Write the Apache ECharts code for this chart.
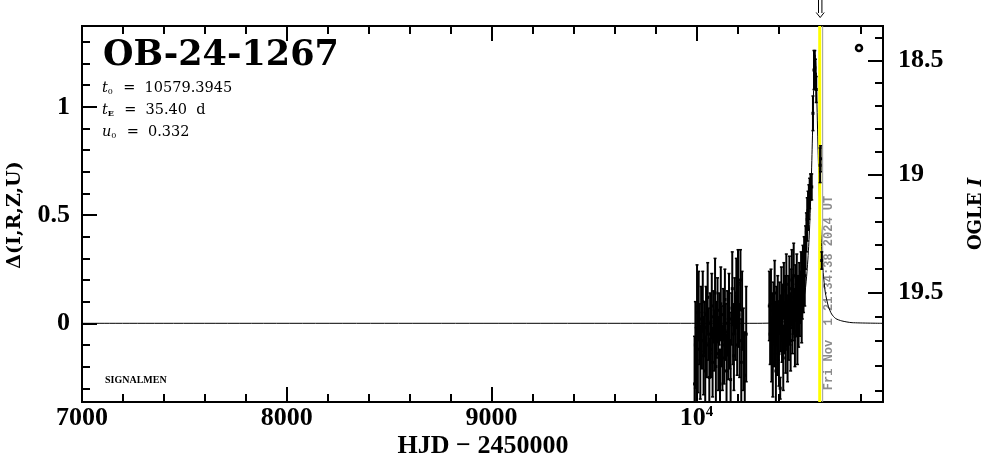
<!DOCTYPE html>
<html><head><meta charset="utf-8">
<script src="https://cdn.jsdelivr.net/npm/echarts@6/dist/echarts.min.js"></script>
<style>html,body{margin:0;padding:0;background:#fff}#c{width:986px;height:459px}</style>
</head><body><div id="c"></div>
<script>
// ---- axis ticks / labels ----
const xMajorTicks = [7000, 8000, 9000, 10000];
const xMajorLabels = ['7000', '8000', '9000', '{b|10}{s|4}'];
const xMinorTicks = [7200, 7400, 7600, 7800, 8200, 8400, 8600, 8800, 9200, 9400, 9600, 9800, 10200, 10400, 10600, 10800];
const yMajorTicks = [0, 0.5, 1];
const yMajorLabels = ['0', '0.5', '1'];
const yMinorTicks = [-0.3, -0.2, -0.1, 0.1, 0.2, 0.3, 0.4, 0.6, 0.7, 0.8, 0.9, 1.1, 1.2, 1.3];
const magMajorTicks = [18.5, 19, 19.5];
const magMajorLabels = ['18.5', '19', '19.5'];
const magMinorTicks = [18.4, 18.6, 18.7, 18.8, 18.9, 19.1, 19.2, 19.3, 19.4, 19.6, 19.7, 19.8, 19.9];

// ---- model curve ----
const modelT = [7000, 10300, 10400, 10450, 10480, 10500, 10515, 10530, 10540, 10550, 10558, 10565, 10572, 10576, 10579.4, 10583, 10587, 10594, 10601, 10609, 10619, 10629, 10644, 10660, 10680, 10710, 10760, 10911];
const modelD = [0, 0, 0.003, 0.012, 0.022, 0.044, 0.079, 0.144, 0.239, 0.388, 0.575, 0.804, 1.076, 1.19, 1.24, 1.19, 1.07, 0.80, 0.575, 0.39, 0.235, 0.144, 0.079, 0.043, 0.022, 0.011, 0.003, 0];

// ---- photometry season 2023 ----
const s1T = [9991, 9995, 9999, 10003, 10007, 10011, 10015, 10019, 10023, 10027, 10031, 10035, 10039, 10043, 10047, 10051, 10055, 10059, 10063, 10067, 10071, 10075, 10079, 10083, 10087, 10091, 10095, 10099, 10103, 10107, 10111, 10115, 10119, 10123, 10127, 10131, 10135, 10139, 10143, 10147, 10151, 10155, 10159, 10163, 10167, 10171, 10175, 10179, 10183, 10187, 10191, 10195, 10199, 10203, 10207, 10211, 10215, 10219, 10223, 10229, 10236, 10243];
const s1D = [-0.28, -0.10, -0.20, 0.05, -0.12, 0.08, -0.05, -0.18, 0.02, -0.08, 0.10, -0.15, -0.02, -0.22, 0.04, -0.10, 0.12, -0.05, -0.25, 0.00, -0.12, 0.08, -0.18, 0.03, -0.08, 0.14, -0.20, -0.03, 0.06, -0.14, 0.02, -0.28, 0.09, -0.06, -0.16, 0.04, -0.10, 0.11, -0.04, -0.22, 0.00, -0.12, 0.07, -0.08, -0.26, 0.02, 0.16, -0.05, -0.15, 0.08, -0.02, 0.14, -0.10, 0.18, 0.04, -0.08, 0.20, -0.18, 0.06, -0.12, -0.24, -0.05];
const s1E = [0.22, 0.20, 0.18, 0.22, 0.20, 0.16, 0.14, 0.17, 0.15, 0.13, 0.14, 0.18, 0.12, 0.16, 0.13, 0.15, 0.16, 0.12, 0.18, 0.14, 0.13, 0.15, 0.16, 0.12, 0.14, 0.16, 0.20, 0.13, 0.15, 0.17, 0.12, 0.16, 0.17, 0.14, 0.15, 0.12, 0.18, 0.14, 0.13, 0.17, 0.15, 0.14, 0.16, 0.13, 0.18, 0.12, 0.17, 0.14, 0.16, 0.13, 0.15, 0.16, 0.14, 0.16, 0.15, 0.17, 0.14, 0.20, 0.18, 0.19, 0.20, 0.22];

// ---- photometry season 2024 ----
const s2T = [10356, 10360, 10364, 10367, 10370, 10373, 10376, 10379, 10382, 10385, 10388, 10391, 10394, 10397, 10400, 10403, 10406, 10409, 10412, 10415, 10418, 10421, 10424, 10427, 10430, 10433, 10436, 10439, 10442, 10445, 10448, 10451, 10454, 10457, 10460, 10463, 10466, 10469, 10472, 10475, 10478, 10481, 10484, 10487, 10490, 10493, 10496, 10499, 10502, 10505, 10508, 10511, 10514, 10517, 10520, 10523, 10526, 10529, 10533, 10537, 10541, 10545, 10549, 10553, 10557, 10563, 10569, 10574, 10578, 10581, 10585, 10604, 10606, 10612];
const s2D = [0.08, -0.05, 0.12, -0.12, 0.02, -0.18, 0.06, -0.08, 0.14, -0.02, -0.22, 0.04, -0.10, 0.10, -0.04, -0.14, 0.07, -0.30, 0.00, 0.12, -0.06, 0.05, -0.16, 0.15, -0.02, 0.08, -0.10, 0.18, 0.01, -0.12, 0.10, -0.04, 0.16, 0.02, -0.08, 0.12, 0.20, -0.02, 0.08, 0.22, 0.04, -0.06, 0.14, 0.06, 0.18, -0.04, 0.10, 0.02, 0.16, 0.08, 0.12, 0.20, 0.05, 0.14, 0.24, 0.18, 0.28, 0.22, 0.35, 0.42, 0.48, 0.52, 0.56, 0.60, 0.63, 0.63, 0.97, 1.17, 1.18, 1.15, 1.08, 0.73, 0.76, 0.29];
const s2E = [0.16, 0.14, 0.13, 0.15, 0.12, 0.16, 0.13, 0.12, 0.15, 0.12, 0.15, 0.13, 0.14, 0.12, 0.13, 0.15, 0.12, 0.05, 0.13, 0.14, 0.12, 0.13, 0.15, 0.13, 0.12, 0.14, 0.13, 0.14, 0.12, 0.15, 0.12, 0.13, 0.15, 0.12, 0.14, 0.13, 0.14, 0.12, 0.13, 0.15, 0.12, 0.14, 0.13, 0.12, 0.14, 0.15, 0.12, 0.13, 0.12, 0.14, 0.12, 0.13, 0.14, 0.12, 0.12, 0.13, 0.12, 0.14, 0.10, 0.09, 0.10, 0.09, 0.08, 0.07, 0.06, 0.06, 0.08, 0.09, 0.08, 0.07, 0.06, 0.08, 0.06, 0.04];

// ---- event info ----
const eventName = 'OB-24-1267';
const lastObsHJD = 10602;
const nowHJD = 10616.4;
const nowText = 'Fri Nov  1 21:34:38 2024 UT';

// magnitude -> Delta mapping of the right axis
function magToDelta(m) { const u = m - 19; return 0.6876 - 1.0738 * u - 0.038 * u * u; }

const X_MIN = 7000, X_MAX = 10911, Y_MIN = -0.3635, Y_MAX = 1.3733;
const LBL_FONT = 'Liberation Serif';

function pointsOf(T, D, E) { return T.map((t, i) => [t, D[i], E[i]]); }
const photData = pointsOf(s1T, s1D, s1E).concat(pointsOf(s2T, s2D, s2E));
const modelData = modelT.map((t, i) => [t, modelD[i]]);

function nearestLabel(ticks, labels, v) {
  let bi = 0, bd = Infinity;
  ticks.forEach((t, i) => { const d = Math.abs(t - v); if (d < bd) { bd = d; bi = i; } });
  return labels[bi];
}
const black = '#000';
function xAx(pos, ticks, len, labels) {
  return {
    type: 'value', position: pos, min: X_MIN, max: X_MAX, gridIndex: 0,
    axisLine: { show: true, onZero: false, lineStyle: { color: black, width: 2 } },
    axisTick: { show: true, inside: true, length: len, customValues: ticks, lineStyle: { color: black, width: 2 } },
    axisLabel: labels ? {
      show: true, customValues: ticks, margin: 3, color: black, fontFamily: LBL_FONT, fontWeight: 'bold', fontSize: 26,
      formatter: v => nearestLabel(xMajorTicks, xMajorLabels, v),
      rich: {
        b: { fontFamily: LBL_FONT, fontWeight: 'bold', fontSize: 26, color: black, lineHeight: 26 },
        s: { fontFamily: LBL_FONT, fontWeight: 'bold', fontSize: 15, color: black, verticalAlign: 'top', lineHeight: 15, padding: [0, 0, 12, 0] }
      }
    } : { show: false },
    splitLine: { show: false }
  };
}
function yAx(pos, ticks, len, labelFn, margin) {
  return {
    type: 'value', position: pos, min: Y_MIN, max: Y_MAX, gridIndex: 0,
    axisLine: { show: true, onZero: false, lineStyle: { color: black, width: 2 } },
    axisTick: { show: true, inside: true, length: len, customValues: ticks, lineStyle: { color: black, width: 2 } },
    axisLabel: labelFn ? {
      show: true, customValues: ticks, margin: margin, color: black, fontFamily: LBL_FONT, fontWeight: 'bold', fontSize: 26,
      formatter: labelFn
    } : { show: false },
    splitLine: { show: false }
  };
}
const magMajorDelta = magMajorTicks.map(magToDelta);
const magMinorDelta = magMinorTicks.map(magToDelta);

const chart = echarts.init(document.getElementById('c'), null, { renderer: 'canvas' });

function vline(color, width) {
  return function (params, api) {
    const cs = params.coordSys;
    const x = api.coord([api.value(0), 0])[0];
    return { type: 'line', shape: { x1: x, y1: cs.y, x2: x, y2: cs.y + cs.height }, style: { stroke: color, lineWidth: width } };
  };
}

const option = {
  animation: false,
  backgroundColor: '#fff',
  grid: { left: 82, right: 103, top: 26, bottom: 57, containLabel: false },
  xAxis: [
    xAx('bottom', xMajorTicks, 15, true),
    xAx('top', xMajorTicks, 15, false),
    xAx('bottom', xMinorTicks, 8, false),
    xAx('top', xMinorTicks, 8, false)
  ],
  yAxis: [
    yAx('left', yMajorTicks, 15, v => nearestLabel(yMajorTicks, yMajorLabels, v), 12),
    yAx('left', yMinorTicks, 8, null, 0),
    yAx('right', magMajorDelta, 15, v => nearestLabel(magMajorDelta, magMajorLabels, v), 15),
    yAx('right', magMinorDelta, 8, null, 0)
  ],
  series: [
    {
      type: 'line', name: 'model', xAxisIndex: 0, yAxisIndex: 0, data: modelData,
      showSymbol: false, symbol: 'none', smooth: 0.25, z: 2,
      lineStyle: { color: black, width: 1 }
    },
    {
      type: 'custom', name: 'last', xAxisIndex: 0, yAxisIndex: 0, data: [[lastObsHJD]], z: 3,
      renderItem: vline('#ffff00', 3)
    },
    {
      type: 'custom', name: 'now', xAxisIndex: 0, yAxisIndex: 0, data: [[nowHJD]], z: 3,
      renderItem: vline('#999999', 1)
    },
    {
      type: 'custom', name: 'phot', xAxisIndex: 0, yAxisIndex: 0, data: photData, z: 4,
      renderItem: function (params, api) {
        const cs = params.coordSys;
        const t = api.value(0), d = api.value(1), e = api.value(2);
        const top = api.coord([t, d + e]), bot = api.coord([t, d - e]), c = api.coord([t, d]);
        const y0 = cs.y, y1 = cs.y + cs.height;
        const clampY = y => Math.max(y0, Math.min(y1, y));
        const ch = [
          { type: 'line', shape: { x1: top[0], y1: clampY(top[1]), x2: bot[0], y2: clampY(bot[1]) }, style: { stroke: black, lineWidth: 2 } }
        ];
        if (top[1] >= y0 && top[1] <= y1) ch.push({ type: 'line', shape: { x1: top[0] - 1.5, y1: top[1], x2: top[0] + 1.5, y2: top[1] }, style: { stroke: black, lineWidth: 1.5 } });
        if (bot[1] >= y0 && bot[1] <= y1) ch.push({ type: 'line', shape: { x1: bot[0] - 1.5, y1: bot[1], x2: bot[0] + 1.5, y2: bot[1] }, style: { stroke: black, lineWidth: 1.5 } });
        if (c[1] >= y0 && c[1] <= y1) ch.push({ type: 'rect', shape: { x: c[0] - 1.5, y: c[1] - 1.5, width: 3, height: 3 }, style: { fill: black } });
        return { type: 'group', children: ch };
      }
    }
  ]
};
chart.setOption(option);

const arrowX = chart.convertToPixel({ xAxisIndex: 0 }, lastObsHJD) + 0.5;
const nowX = chart.convertToPixel({ xAxisIndex: 0 }, nowHJD);
const serif = 'DejaVu Serif';
function paramRich(bold) {
  return {
    i: { fontFamily: serif, fontStyle: 'italic', fontSize: 14.5, fill: black },
    sub: { fontFamily: serif, fontWeight: bold ? 'bold' : 'normal', fontSize: 8, fill: black, verticalAlign: 'bottom', padding: [6, 1, 0, 0] },
    n: { fontFamily: serif, fontSize: 14.5, fill: black }
  };
}
chart.setOption({
  graphic: [
    { type: 'text', x: 103, y: 56, style: { text: eventName, fontFamily: serif, fontWeight: 'bold', fontSize: 35, fill: black, verticalAlign: 'middle', align: 'left' } },
    { type: 'text', x: 102, y: 88, style: { text: '{i|t}{sub|0}{n|  =  10579.3945}', verticalAlign: 'middle', rich: paramRich(false) } },
    { type: 'text', x: 102, y: 110.5, style: { text: '{i|t}{sub|E}{n|  =  35.40  d}', verticalAlign: 'middle', rich: paramRich(true) } },
    { type: 'text', x: 102, y: 132.5, style: { text: '{i|u}{sub|0}{n|  =  0.332}', verticalAlign: 'middle', rich: paramRich(false) } },
    { type: 'text', x: 105, y: 380, style: { text: 'SIGNALMEN', fontFamily: 'Liberation Serif', fontWeight: 'bold', fontSize: 10, fill: black, verticalAlign: 'middle' } },
    { type: 'text', x: 15, y: 215, rotation: Math.PI / 2, style: { text: 'Δ(I,R,Z,U)', fontFamily: serif, fontWeight: 'bold', fontSize: 19, fill: black, align: 'center', verticalAlign: 'middle' } },
    { type: 'text', x: 976, y: 214, rotation: Math.PI / 2, style: { text: '{a|OGLE }{b|I}', align: 'center', verticalAlign: 'middle', rich: {
      a: { fontFamily: serif, fontWeight: 'bold', fontSize: 18, fill: black },
      b: { fontFamily: serif, fontWeight: 'bold', fontStyle: 'italic', fontSize: 18, fill: black } } } },
    { type: 'text', x: 483, y: 446, style: { text: 'HJD \u2212 2450000', fontFamily: LBL_FONT, fontWeight: 'bold', fontSize: 26, fill: black, align: 'center', verticalAlign: 'middle' } },
    { type: 'text', x: nowX + 6.5, y: 293, rotation: Math.PI / 2, style: { text: nowText, fontFamily: 'Liberation Mono', fontWeight: 'bold', fontSize: 12, fill: '#8c8c8c', align: 'center', verticalAlign: 'middle' } },
    { type: 'circle', shape: { cx: 859, cy: 48, r: 3 }, style: { fill: '#fff', stroke: black, lineWidth: 2.5 } },
    { type: 'polyline', shape: { points: [[arrowX - 1.7, 0], [arrowX - 1.7, 13]] }, style: { stroke: black, lineWidth: 1 } },
    { type: 'polyline', shape: { points: [[arrowX + 1.7, 0], [arrowX + 1.7, 13]] }, style: { stroke: black, lineWidth: 1 } },
    { type: 'polyline', shape: { points: [[arrowX - 4, 12.5], [arrowX, 17.5], [arrowX + 4, 12.5]] }, style: { stroke: black, lineWidth: 1, fill: null } }
  ]
});
</script>
</body></html>
